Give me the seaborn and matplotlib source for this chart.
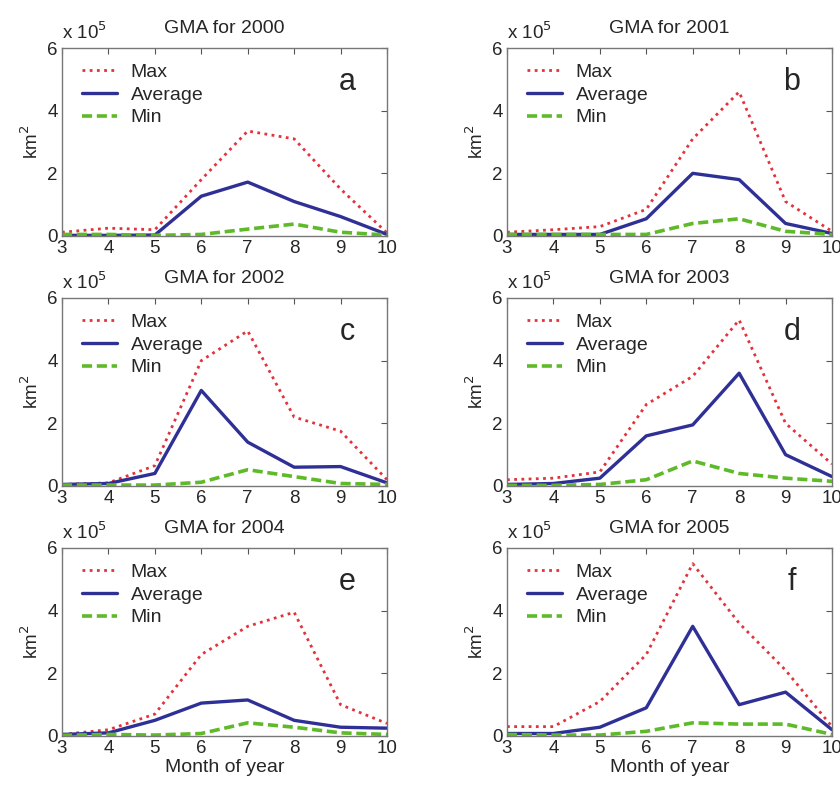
import matplotlib
matplotlib.use("Agg")
import matplotlib.pyplot as plt
import seaborn as sns
import pandas as pd

sns.set_style("white")
plt.rcParams["font.family"] = ["Liberation Sans", "DejaVu Sans"]

months = [3, 4, 5, 6, 7, 8, 9, 10]
years = ["2000", "2001", "2002", "2003", "2004", "2005"]
letters = ["a", "b", "c", "d", "e", "f"]

# values in units of 10^5 km^2
max_2000 = [0.12, 0.25, 0.20, 1.80, 3.35, 3.10, 1.50, 0.10]
avg_2000 = [0.02, 0.02, 0.03, 1.27, 1.72, 1.10, 0.62, 0.05]
min_2000 = [0.05, 0.05, 0.02, 0.05, 0.22, 0.38, 0.12, 0.03]

max_2001 = [0.12, 0.20, 0.30, 0.85, 3.10, 4.60, 1.10, 0.15]
avg_2001 = [0.05, 0.05, 0.05, 0.55, 2.00, 1.80, 0.40, 0.08]
min_2001 = [0.05, 0.05, 0.05, 0.05, 0.40, 0.55, 0.15, 0.05]

max_2002 = [0.05, 0.10, 0.65, 4.00, 4.95, 2.20, 1.75, 0.20]
avg_2002 = [0.05, 0.08, 0.40, 3.05, 1.40, 0.60, 0.62, 0.10]
min_2002 = [0.03, 0.03, 0.03, 0.12, 0.52, 0.30, 0.08, 0.05]

max_2003 = [0.20, 0.25, 0.45, 2.60, 3.50, 5.30, 2.00, 0.70]
avg_2003 = [0.05, 0.08, 0.25, 1.60, 1.95, 3.60, 1.00, 0.30]
min_2003 = [0.02, 0.02, 0.05, 0.20, 0.80, 0.40, 0.25, 0.15]

max_2004 = [0.05, 0.20, 0.70, 2.60, 3.50, 3.95, 1.00, 0.40]
avg_2004 = [0.05, 0.10, 0.50, 1.05, 1.15, 0.50, 0.28, 0.25]
min_2004 = [0.02, 0.05, 0.03, 0.08, 0.42, 0.28, 0.10, 0.05]

max_2005 = [0.30, 0.30, 1.10, 2.60, 5.50, 3.60, 2.10, 0.30]
avg_2005 = [0.08, 0.08, 0.28, 0.90, 3.50, 1.00, 1.40, 0.20]
min_2005 = [0.05, 0.03, 0.03, 0.15, 0.42, 0.38, 0.38, 0.05]

maxs = [max_2000, max_2001, max_2002, max_2003, max_2004, max_2005]
avgs = [avg_2000, avg_2001, avg_2002, avg_2003, avg_2004, avg_2005]
mins = [min_2000, min_2001, min_2002, min_2003, min_2004, min_2005]

x_ticks = [3, 4, 5, 6, 7, 8, 9, 10]
y_ticks = [0, 2, 4, 6]

W, H = 840, 787
fig = plt.figure(figsize=(W / 100, H / 100), dpi=100)

lefts = [62, 507]
tops = [48, 298, 548]
aw, ah = 325, 188

for i in range(6):
    r, c = divmod(i, 2)
    l = lefts[c]
    t = tops[r]
    ax = fig.add_axes([l / W, 1 - (t + ah) / H, aw / W, ah / H])
    df = pd.DataFrame({"month": months, "Max": maxs[i], "Average": avgs[i], "Min": mins[i]})
    sns.lineplot(data=df, x="month", y="Max", ax=ax, color="#e2323c",
                 linestyle=(0, (1, 1.6)), linewidth=2.0, label="Max")
    sns.lineplot(data=df, x="month", y="Average", ax=ax, color="#2f3096",
                 linestyle="-", linewidth=2.4, label="Average")
    sns.lineplot(data=df, x="month", y="Min", ax=ax, color="#5fba2a",
                 linestyle=(0, (2.8, 1.3)), linewidth=2.6, label="Min")
    ax.set_xlim(3, 10)
    ax.set_ylim(0, 6)
    ax.set_xticks(x_ticks)
    ax.set_yticks(y_ticks)
    ax.tick_params(direction="in", length=4, width=0.8, color="#555555",
                   labelsize=13.5, top=True, right=True, pad=3)
    for s in ax.spines.values():
        s.set_color("#777777")
        s.set_linewidth(1.0)
    ax.set_ylabel("km$^2$", fontsize=13.5, labelpad=4)
    if r == 2:
        ax.set_xlabel("Month of year", fontsize=14, labelpad=1)
    else:
        ax.set_xlabel("")
    ax.set_title("GMA for " + years[i], fontsize=14, pad=11)
    ax.text(0.0, 1.025, "x 10$^5$", transform=ax.transAxes, fontsize=13.5,
            ha="left", va="bottom")
    ax.text(0.877, 0.82, letters[i], transform=ax.transAxes, fontsize=22,
            ha="center", va="center")
    ax.legend(loc="upper left", bbox_to_anchor=(0.062, 0.918), frameon=False,
              fontsize=14, handlelength=1.8, handletextpad=0.7,
              labelspacing=0.26, borderpad=0, borderaxespad=0)

fig.savefig("out.png", dpi=100)
